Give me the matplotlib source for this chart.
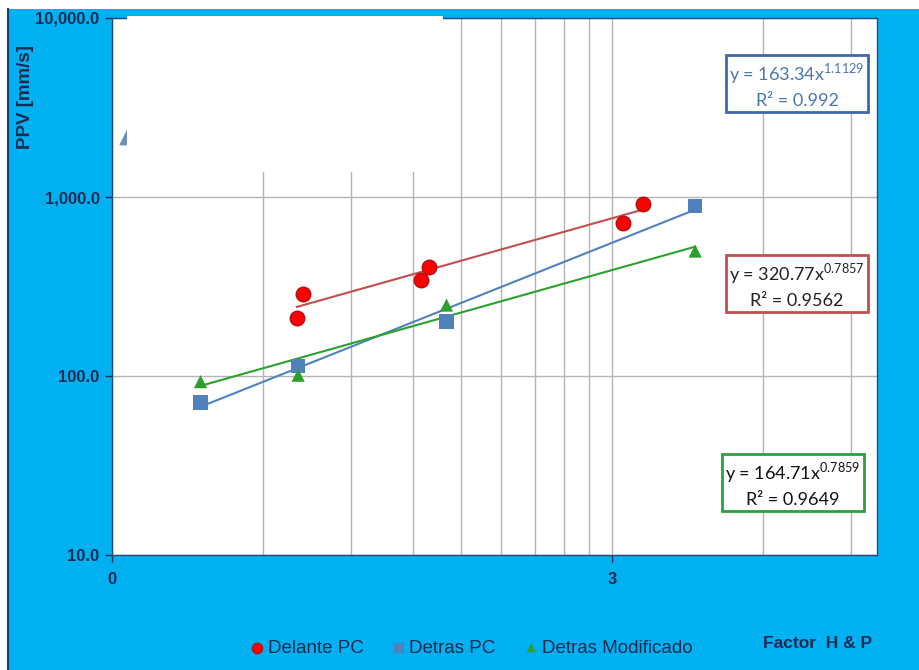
import matplotlib.pyplot as plt
from matplotlib.patches import Rectangle
from matplotlib.lines import Line2D
from matplotlib.ticker import FixedLocator, NullFormatter
import numpy as np

# ==================================
# Data
# ==================================
delante_x = [0.722, 0.703, 1.243, 1.293, 3.15, 3.456]
delante_y = [287, 212, 344, 405, 713, 910]

detras_x = [0.451, 0.707, 1.40, 4.40]
detras_y = [71, 114, 201, 890]

modif_x = [0.451, 0.707, 1.40, 4.40]
modif_y = [93, 101, 249, 499]

# power trendlines y = a * x^b
fit_a = {"delante": "320.77", "detras": "163.34", "modif": "164.71"}
fit_b = {"delante": "0.7857", "detras": "1.1129", "modif": "0.7859"}
fit_r2 = {"delante": "0.9562", "detras": "0.992", "modif": "0.9649"}

y_ticks = [10, 100, 1000, 10000]
y_labels = ["10.0", "100.0", "1,000.0", "10,000.0"]
x_ticks = [0.3, 3]
x_labels = ["0", "3"]
x_minor = [0.6, 0.9, 1.2, 1.5, 1.8, 2.1, 2.4, 2.7, 6, 9]

NAVY = "#1c2b52"
BG = "#00b0f0"
RED_LINE = "#c0504d"
BLUE = "#4f81bd"
GREEN = "#2ca02c"

plt.rcParams["mathtext.fontset"] = "custom"
plt.rcParams["mathtext.rm"] = "Lato"

# ==================================
# Figure
# ==================================
W, H = 919, 670
fig = plt.figure(figsize=(W / 100, H / 100), dpi=100)
fig.patch.set_facecolor("white")

# blue panel behind the chart
fig.patches.append(Rectangle((8 / W, 0), 1 - 8 / W, 1 - 9 / H,
                             transform=fig.transFigure, facecolor=BG,
                             edgecolor="none", zorder=-5))
fig.lines.append(Line2D([8 / W, 8 / W], [0, 1 - 9 / H],
                        transform=fig.transFigure, color="#1f3c6e", lw=1.5,
                        zorder=-4))

ax = fig.add_axes([112 / W, (H - 555) / H, 765 / W, 537 / H])
ax.set_zorder(1)
ax.set_facecolor("white")
ax.set_xscale("log")
ax.set_yscale("log")
ax.set_xlim(0.3, 0.3 * 10 ** (765 / 500))
ax.set_ylim(10, 10000)

ax.xaxis.set_major_locator(FixedLocator(x_ticks))
ax.xaxis.set_minor_locator(FixedLocator(x_minor))
ax.xaxis.set_minor_formatter(NullFormatter())
ax.set_xticklabels(x_labels)
ax.yaxis.set_major_locator(FixedLocator(y_ticks))
ax.yaxis.set_minor_locator(FixedLocator([]))
ax.set_yticklabels(y_labels)

ax.grid(True, which="both", axis="x", color="#b4b4b4", lw=1)
ax.grid(True, which="major", axis="y", color="#b4b4b4", lw=1)
ax.set_axisbelow(True)

ax.tick_params(axis="both", which="major", length=5, width=1, color=NAVY,
               labelsize=12, labelcolor=NAVY, pad=4)
ax.tick_params(axis="x", which="major", pad=7)
ax.tick_params(axis="x", which="minor", length=0)
for lab in ax.get_xticklabels() + ax.get_yticklabels():
    lab.set_fontweight("bold")
    lab.set_family("Liberation Sans")

for sp in ax.spines.values():
    sp.set_color("#2b4a7a")
    sp.set_linewidth(1)

# ==================================
# Trendlines
# ==================================
def trend(xs, key, color):
    xx = np.linspace(min(xs), max(xs), 50)
    yy = float(fit_a[key]) * xx ** float(fit_b[key])
    ax.plot(xx, yy, color=color, lw=1.5, zorder=3)

trend(delante_x, "delante", RED_LINE)
trend(detras_x, "detras", BLUE)
trend(modif_x, "modif", GREEN)

# ==================================
# Points
# ==================================
ax.scatter(delante_x, delante_y, marker="o", s=110, color="#ff0000",
           edgecolors="#b01010", linewidths=1, zorder=5, label="Delante PC")
ax.scatter(detras_x, detras_y, marker="s", s=110, color=BLUE,
           edgecolors="none", zorder=5, label="Detras PC")
ax.scatter(modif_x, modif_y, marker="^", s=90, color=GREEN,
           edgecolors="none", zorder=5, label="Detras Modificado")

# stray marker partly hidden under the white panel
ax.scatter([0.322], [2160], marker="^", s=110, color="#6f8fb8", zorder=4)

# white panel over the upper left area
fig.patches.append(Rectangle((127 / W, (H - 172) / H), 316 / W, 156 / H,
                             transform=fig.transFigure, facecolor="white",
                             edgecolor="none", zorder=10))

# ==================================
# Equation boxes
# ==================================
def eq_box(cx, cy, key, edge, tcolor):
    txt = ("y = %sx$^{\\mathregular{%s}}$\nR² = %s"
           % (fit_a[key], fit_b[key], fit_r2[key]))
    fig.text(cx / W, 1 - cy / H, txt, ha="center", va="center",
             fontsize=13, family="Lato", color=tcolor, linespacing=1.5,
             zorder=12,
             bbox=dict(boxstyle="square,pad=0.2", facecolor="white",
                       edgecolor=edge, linewidth=2))

eq_box(797, 85, "detras", "#3d6aa8", "#4a76b0")
eq_box(797, 285, "delante", "#c0504d", "#222222")
eq_box(793, 484, "modif", "#2aa040", "#111111")

# ==================================
# Labels and legend
# ==================================
fig.text(25 / W, 1 - 97 / H, "PPV [mm/s]", rotation=90, ha="center",
         va="center", fontsize=13.5, fontweight="bold", color=NAVY,
         family="Liberation Sans")
fig.text(818 / W, 1 - 643 / H, "Factor  H & P", ha="center", va="center",
         fontsize=12.5, fontweight="bold", color=NAVY,
         family="Liberation Sans")

leg = fig.legend(loc="center", bbox_to_anchor=(472 / W, 1 - 648 / H),
                 ncol=3, frameon=False, handlelength=0.6,
                 handletextpad=0.25, columnspacing=1.6, markerscale=0.7,
                 prop={"family": "Liberation Sans", "size": 13.5})
for t in leg.get_texts():
    t.set_color(NAVY)

fig.savefig("out.png", dpi=100)
